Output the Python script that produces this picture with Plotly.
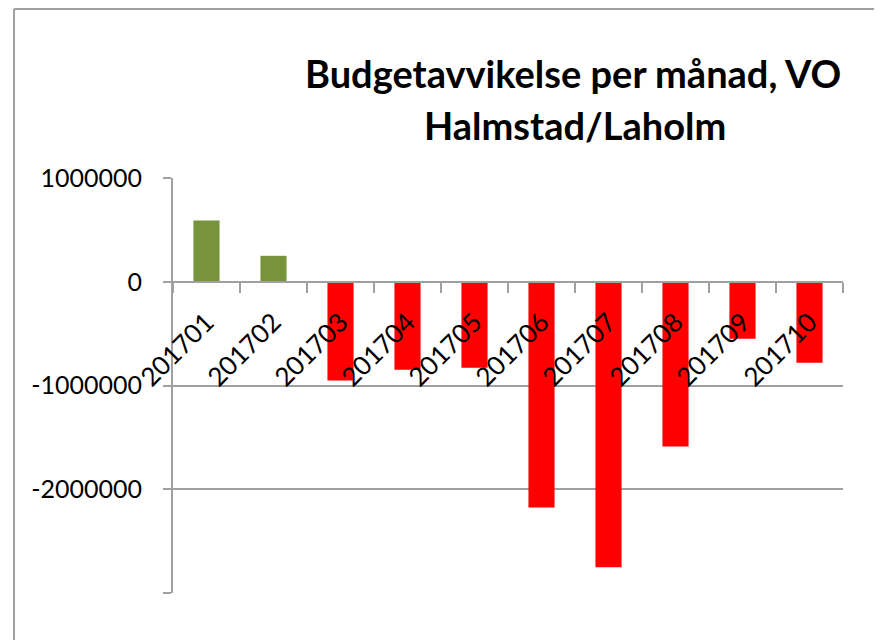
import plotly.graph_objects as go

months = ["201701", "201702", "201703", "201704", "201705",
          "201706", "201707", "201708", "201709", "201710"]
deviation = [590000, 250000, -953000, -847000, -828000,
             -2175000, -2753000, -1588000, -549000, -780000]
y_ticks = [1000000, 0, -1000000, -2000000, -3000000]
y_tick_text = ["1000000", "0", "-1000000", "-2000000", ""]
title_lines = ["Budgetavvikelse per månad, VO", "Halmstad/Laholm"]

GREEN = "#77933C"
RED = "#FF0000"
GRAY = "#A0A0A0"
FONT = "Lato"

colors = [GREEN if v >= 0 else RED for v in deviation]

fig = go.Figure(go.Bar(x=months, y=deviation, marker_color=colors,
                       marker_line_width=0))

# page body has an 8px margin; work in screen pixels and shift by OFF
OFF = 8
W, H = 882 - OFF, 640 - OFF
L, R, T, B = 173 - OFF, 39, 178 - OFF, 47
pw, ph = W - L - R, H - T - B

def px_x(p):
    return (p - OFF - L) / pw

def px_y(p):
    return (H - B - (p - OFF)) / ph

fig.update_layout(
    width=W, height=H,
    margin=dict(l=L, r=R, t=T, b=B, pad=0),
    paper_bgcolor="white", plot_bgcolor="white",
    showlegend=False,
    bargap=0.61,
    font=dict(family=FONT, color="black", size=25),
    xaxis=dict(
        type="category",
        anchor="free", position=0.75,
        showline=True, linecolor=GRAY, linewidth=2,
        ticks="outside", tickson="boundaries", ticklen=10,
        tickcolor=GRAY, tickwidth=2,
        tickangle=-45, showgrid=False,
        tickfont=dict(family=FONT, size=26, color="black"),
        ticklabelstandoff=14,
    ),
    yaxis=dict(
        range=[-3000000, 1000000],
        tickvals=y_ticks, ticktext=y_tick_text,
        showline=True, linecolor=GRAY, linewidth=2,
        ticks="outside", ticklen=8, tickcolor=GRAY, tickwidth=2,
        showgrid=True, gridcolor=GRAY, gridwidth=2,
        zeroline=False,
        tickfont=dict(family=FONT, size=25, color="black"),
        ticklabelstandoff=16,
    ),
    annotations=[
        dict(text="<b>%s</b>" % title_lines[0], xref="paper", yref="paper",
             x=px_x(573), y=px_y(73), xanchor="center", yanchor="middle",
             showarrow=False, font=dict(family=FONT, size=38, color="black")),
        dict(text="<b>%s</b>" % title_lines[1], xref="paper", yref="paper",
             x=px_x(575), y=px_y(125), xanchor="center", yanchor="middle",
             showarrow=False, font=dict(family=FONT, size=38, color="black")),
    ],
    shapes=[
        dict(type="line", xref="paper", yref="paper",
             x0=px_x(14), x1=px_x(14), y0=px_y(9), y1=px_y(660),
             line=dict(color=GRAY, width=2)),
        dict(type="line", xref="paper", yref="paper",
             x0=px_x(14), x1=px_x(900), y0=px_y(9), y1=px_y(9),
             line=dict(color=GRAY, width=2)),
    ],
)

fig.write_html("out.html")
